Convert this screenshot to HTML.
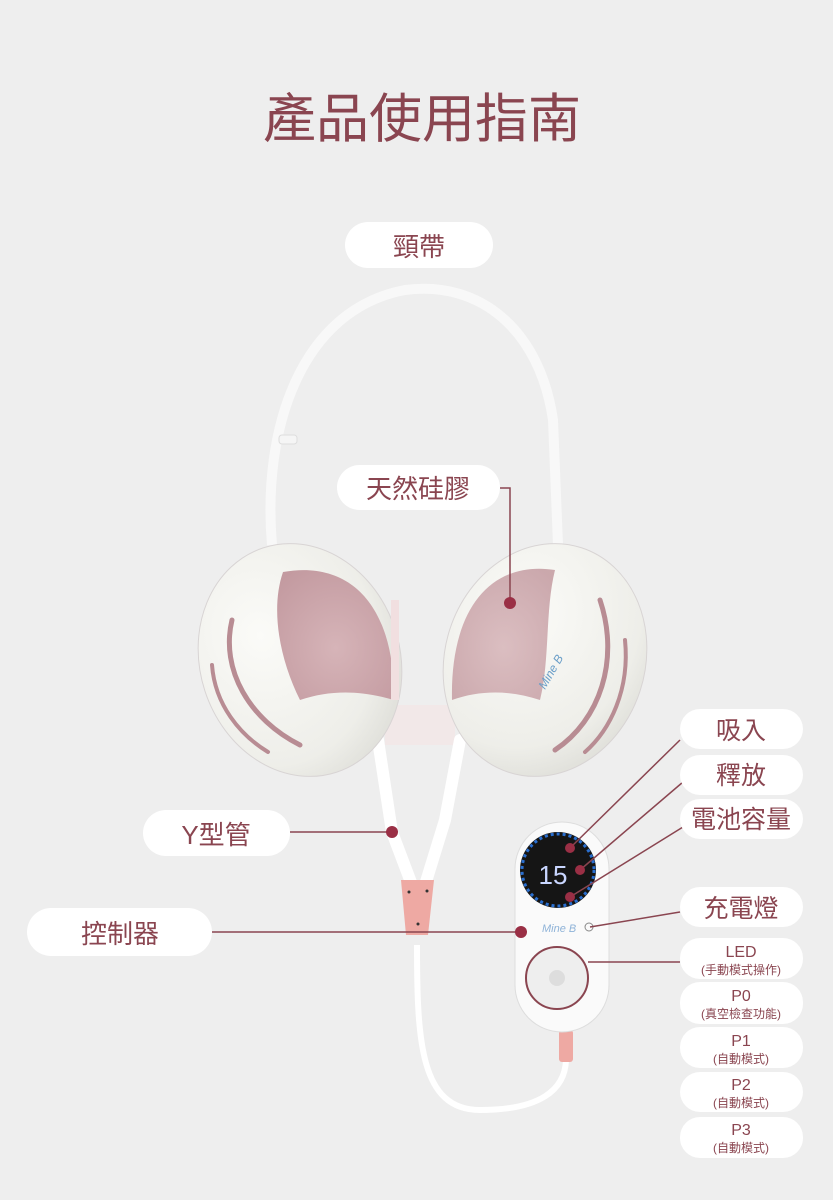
<!DOCTYPE html>
<html><head><meta charset="utf-8"><style>
html,body{margin:0;padding:0;background:#eeeeee;}
svg{display:block}
text{font-family:"Liberation Sans","Noto Sans CJK TC",sans-serif;fill:#8a4550;}
</style></head><body>
<svg width="833" height="1200" viewBox="0 0 833 1200" xmlns="http://www.w3.org/2000/svg">
<defs>
<radialGradient id="shell" cx="0.35" cy="0.35" r="0.8"><stop offset="0" stop-color="#fbfbf8"/><stop offset="0.7" stop-color="#eeeee9"/><stop offset="1" stop-color="#d9d9d3"/></radialGradient>
<radialGradient id="pinkin" cx="0.5" cy="0.6" r="0.7"><stop offset="0" stop-color="#d6b4b8"/><stop offset="1" stop-color="#c39aa0"/></radialGradient>
</defs>
<rect width="833" height="1200" fill="#eeeeee"/>
<text x="422" y="137" font-size="53" text-anchor="middle">產品使用指南</text>

<!-- strap -->
<path d="M272 545 C262 430 300 310 405 290 C480 280 540 330 553 420 L558 545" fill="none" stroke="#f8f8f8" stroke-width="10" opacity="0.9"/>
<rect x="279" y="435" width="18" height="9" rx="3" fill="#f5f5f5" stroke="#ddd"/>

<!-- cups -->
<rect x="385" y="705" width="70" height="40" fill="#f2e8e8"/>
<path d="M378 740 L392 832 L412 885" fill="none" stroke="#fff" stroke-width="12" stroke-linecap="round"/>
<path d="M460 740 L445 820 L425 885" fill="none" stroke="#fff" stroke-width="12" stroke-linecap="round"/>
<g transform="rotate(-18 300 660)">
<ellipse cx="300" cy="660" rx="100" ry="118" fill="url(#shell)" stroke="#d8d4d4"/>
</g>
<path d="M283 572 C350 560 395 605 394 700 C360 690 330 690 300 700 C280 660 270 610 283 572Z" fill="url(#pinkin)"/>
<path d="M395 600 L395 700" fill="none" stroke="#f1dfe0" stroke-width="8"/>
<path d="M232 620 C220 670 250 720 300 745" fill="none" stroke="#b88c93" stroke-width="5" stroke-linecap="round"/>
<path d="M212 665 C215 705 240 735 268 752" fill="none" stroke="#b88c93" stroke-width="4" stroke-linecap="round"/>
<g transform="rotate(18 545 660)">
<ellipse cx="545" cy="660" rx="100" ry="118" fill="url(#shell)" stroke="#d8d4d4"/>
</g>
<path d="M555 570 C490 560 450 610 452 700 C480 690 510 690 540 700 C550 660 545 610 555 570Z" fill="url(#pinkin)" opacity="0.85"/>
<path d="M600 600 C620 660 600 720 555 750" fill="none" stroke="#b88c93" stroke-width="5" stroke-linecap="round"/>
<path d="M625 640 C630 690 610 730 585 752" fill="none" stroke="#b88c93" stroke-width="4" stroke-linecap="round"/>
<text x="545" y="690" font-size="12" font-style="italic" style="fill:#6a9ec8" transform="rotate(-60 545 690)">Mine B</text>

<!-- Y connector -->
<path d="M401 880 L434 880 L428 935 L406 935 Z" fill="#eea9a3"/>
<circle cx="409" cy="892" r="1.5" fill="#333"/><circle cx="427" cy="891" r="1.5" fill="#333"/><circle cx="418" cy="924" r="1.5" fill="#333"/>
<!-- cord -->
<path d="M417 945 C417 1040 420 1110 480 1110 C540 1110 565 1090 566 1060" fill="none" stroke="#fff" stroke-width="6"/>
<rect x="559" y="1030" width="14" height="32" rx="3" fill="#eea9a3"/>

<!-- controller -->
<rect x="515" y="822" width="94" height="210" rx="47" fill="#fafafa" stroke="#ddd"/>
<circle cx="558" cy="870" r="38" fill="#151515"/>
<circle cx="558" cy="870" r="36" fill="none" stroke="#2a6fd0" stroke-width="3" stroke-dasharray="3 3"/>
<text x="553" y="884" font-size="26" style="fill:#c9d6ff" text-anchor="middle">15</text>
<text x="542" y="932" font-size="11" font-style="italic" style="fill:#8fb3d8">Mine B</text>
<circle cx="589" cy="927" r="4" fill="none" stroke="#888"/>
<circle cx="557" cy="978" r="31" fill="#eeeeee" stroke="#8a4550" stroke-width="2"/>
<circle cx="557" cy="978" r="8" fill="#ddd"/>

<!-- connector lines -->
<g stroke="#8a4550" stroke-width="1.5" fill="none">
<path d="M500 488 L510 488 L510 603"/>
<line x1="290" y1="832" x2="392" y2="832"/>
<line x1="212" y1="932" x2="521" y2="932"/>
<line x1="680" y1="740" x2="570" y2="848"/>
<line x1="683" y1="782" x2="580" y2="870"/>
<line x1="683" y1="827" x2="570" y2="897"/>
<line x1="680" y1="912" x2="590" y2="927"/>
<line x1="680" y1="962" x2="588" y2="962"/>
</g>
<g fill="#9a2f45">
<circle cx="510" cy="603" r="6"/><circle cx="392" cy="832" r="6"/><circle cx="521" cy="932" r="6"/>
<circle cx="570" cy="848" r="5"/><circle cx="580" cy="870" r="5"/><circle cx="570" cy="897" r="5"/>
</g>

<!-- pills -->
<g fill="#ffffff">
<rect x="345" y="222" width="148" height="46" rx="23"/>
<rect x="337" y="465" width="163" height="45" rx="22.5"/>
<rect x="143" y="810" width="147" height="46" rx="23"/>
<rect x="27" y="908" width="185" height="48" rx="24"/>
<rect x="680" y="709" width="123" height="40" rx="20"/>
<rect x="680" y="755" width="123" height="40" rx="20"/>
<rect x="680" y="799" width="123" height="40" rx="20"/>
<rect x="680" y="887" width="123" height="40" rx="20"/>
<rect x="680" y="938" width="123" height="41" rx="20"/>
<rect x="680" y="982" width="123" height="42" rx="20"/>
<rect x="680" y="1027" width="123" height="41" rx="20"/>
<rect x="680" y="1072" width="123" height="40" rx="20"/>
<rect x="680" y="1117" width="123" height="41" rx="20"/>
</g>
<g text-anchor="middle">
<text x="419" y="256" font-size="26">頸帶</text>
<text x="418" y="498" font-size="26">天然硅膠</text>
<text x="216" y="844" font-size="26">Y型管</text>
<text x="120" y="943" font-size="26">控制器</text>
<text x="741" y="739" font-size="25">吸入</text>
<text x="741" y="784" font-size="25">釋放</text>
<text x="741" y="828" font-size="25">電池容量</text>
<text x="741" y="917" font-size="25">充電燈</text>
<text x="741" y="957" font-size="16">LED</text><text x="741" y="974" font-size="12">(手動模式操作)</text>
<text x="741" y="1001" font-size="16">P0</text><text x="741" y="1018" font-size="12">(真空檢查功能)</text>
<text x="741" y="1046" font-size="16">P1</text><text x="741" y="1063" font-size="12">(自動模式)</text>
<text x="741" y="1090" font-size="16">P2</text><text x="741" y="1107" font-size="12">(自動模式)</text>
<text x="741" y="1135" font-size="16">P3</text><text x="741" y="1152" font-size="12">(自動模式)</text>
</g>
</svg>
</body></html>
